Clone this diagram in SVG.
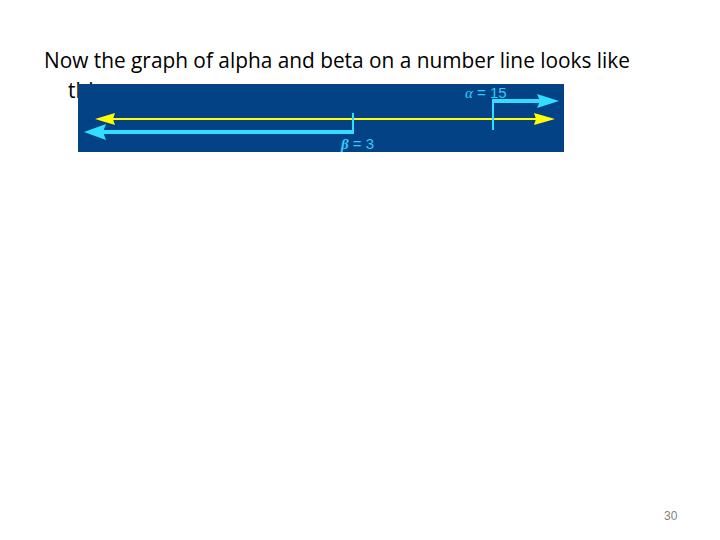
<svg xmlns="http://www.w3.org/2000/svg" width="720" height="540" viewBox="0 0 720 540">
<style>
.title{font-family:"Open Sans","Liberation Sans",sans-serif;font-size:21px;fill:#000}
.lbl{font-family:"Liberation Sans",sans-serif;font-size:15px;fill:#33ccff}
.pg{font-family:"Liberation Sans",sans-serif;font-size:12px;fill:#7f7f7f}
.y{stroke:#ffff00;stroke-width:2;fill:none}
.c{stroke:#33ddff;stroke-width:4;fill:none}
.cv{stroke:#33ddff;stroke-width:2;fill:none}
</style>
<rect width="720" height="540" fill="#fff"/>
<g id="title">
<text class="title" x="44" y="68" textLength="586" lengthAdjust="spacingAndGlyphs">Now the graph of alpha and beta on a number line looks like</text>
<text class="title" x="68" y="98">this</text>
</g>
<g id="panel">
<rect x="78" y="84" width="486" height="68" fill="#024285"/>
</g>
<g id="connectors">
<line class="y" x1="112" y1="119" x2="538" y2="119"/>
<polygon points="95,119 115,113 113,119 115,125" fill="#ffff00"/>
<polygon points="555,119 534,113 536,119 534,125" fill="#ffff00"/>
<line class="c" x1="102" y1="132" x2="354" y2="132"/>
<line class="cv" x1="353" y1="134" x2="353" y2="113"/>
<polygon points="84,132 106,124 103,132 106,140" fill="#33ddff"/>
<line class="cv" x1="493" y1="130" x2="493" y2="99"/>
<line class="c" x1="492" y1="101" x2="542" y2="101"/>
<polygon points="559,101 537,94 540,101 537,108" fill="#33ddff"/>
</g>
<g id="alpha-label"><text class="lbl" x="465" y="98"><tspan font-family="Liberation Serif, serif" font-style="italic">α</tspan> = 15</text></g>
<g id="beta-label"><text class="lbl" x="341" y="149"><tspan font-family="Liberation Serif, serif" font-style="italic" font-weight="bold">β</tspan> = 3</text></g>
<g id="page"><text class="pg" x="664" y="520">30</text></g>
</svg>
